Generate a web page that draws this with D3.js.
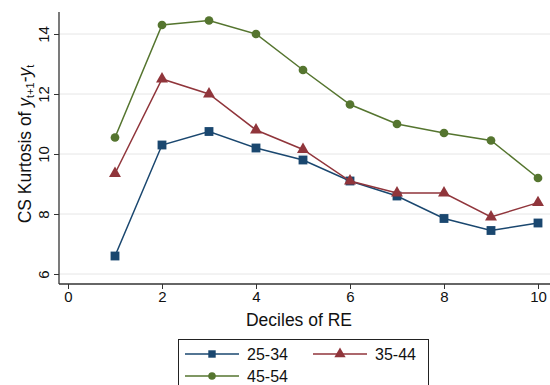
<!DOCTYPE html>
<html>
<head>
<meta charset="utf-8">
<script src="https://cdn.jsdelivr.net/npm/d3@7"></script>
<style>
  body { margin: 0; background: #fff; }
  svg { font-family: "Liberation Sans", Arial, sans-serif; }
</style>
</head>
<body>
<div id="chart"></div>
<script>
const deciles = [1, 2, 3, 4, 5, 6, 7, 8, 9, 10];
const age2534 = [6.6, 10.3, 10.75, 10.2, 9.8, 9.1, 8.6, 7.85, 7.45, 7.7];
const age3544 = [9.35, 12.5, 12.0, 10.8, 10.15, 9.1, 8.7, 8.7, 7.9, 8.38];
const age4554 = [10.55, 14.3, 14.45, 14.0, 12.8, 11.65, 11.0, 10.7, 10.45, 9.2];
const xTicks = [0, 2, 4, 6, 8, 10];
const yTicks = [6, 8, 10, 12, 14];

const series = [
  { name: '25-34', values: age2534, color: '#1a476f', shape: d3.symbolSquare },
  { name: '35-44', values: age3544, color: '#90353b', shape: d3.symbolTriangle },
  { name: '45-54', values: age4554, color: '#55752f', shape: d3.symbolCircle }
];

const width = 550;
const height = 385;

const svg = d3.select('#chart')
  .append('svg')
  .attr('width', width)
  .attr('height', height);

// plot area
const plotLeft = 59, plotRight = 550, plotTop = 12, plotBottom = 284;
const x = d3.scaleLinear().domain([0, 10]).range([68, 538]);
const y = d3.scaleLinear().domain([6, 14]).range([274, 34]);

// gridlines
svg.append('g')
  .selectAll('line')
  .data(yTicks)
  .enter()
  .append('line')
  .attr('x1', plotLeft)
  .attr('x2', plotRight)
  .attr('y1', d => y(d))
  .attr('y2', d => y(d))
  .attr('stroke', '#e6e6e6')
  .attr('stroke-width', 1);

// y axis
const yAxis = svg.append('g')
  .attr('transform', `translate(${plotLeft},0)`)
  .call(d3.axisLeft(y).tickValues(yTicks).tickSize(5).tickFormat(d3.format('d')));
yAxis.select('.domain').attr('d', `M0,${plotTop}V${plotBottom}`).attr('stroke', '#333').attr('stroke-width', 1.3);
yAxis.selectAll('.tick line').attr('stroke', '#333');
yAxis.selectAll('.tick text')
  .attr('x', null)
  .attr('dy', null)
  .attr('transform', 'translate(-10,0) rotate(-90)')
  .attr('text-anchor', 'middle')
  .attr('font-size', 15)
  .attr('fill', '#111');

// x axis
const xAxis = svg.append('g')
  .attr('transform', `translate(0,${plotBottom})`)
  .call(d3.axisBottom(x).tickValues(xTicks).tickSize(5));
xAxis.select('.domain').attr('d', `M${plotLeft},0H${plotRight}`).attr('stroke', '#333').attr('stroke-width', 1.3);
xAxis.selectAll('.tick line').attr('stroke', '#333');
xAxis.selectAll('.tick text')
  .attr('y', 7)
  .attr('font-size', 15)
  .attr('fill', '#111');

// axis titles
svg.append('text')
  .attr('x', 299)
  .attr('y', 326)
  .attr('text-anchor', 'middle')
  .attr('font-size', 17.5)
  .attr('fill', '#111')
  .text('Deciles of RE');

const yTitle = svg.append('text')
  .attr('transform', 'translate(31,144) rotate(-90)')
  .attr('text-anchor', 'middle')
  .attr('font-size', 17.5)
  .attr('fill', '#111');
yTitle.append('tspan').text('CS Kurtosis of ');
yTitle.append('tspan').attr('font-style', 'italic').text('y');
yTitle.append('tspan').attr('font-size', 11).attr('dy', 3).text('t+1');
yTitle.append('tspan').attr('dy', -3).text('-');
yTitle.append('tspan').attr('font-style', 'italic').text('y');
yTitle.append('tspan').attr('font-size', 11).attr('dy', 3).text('t');

// lines and markers
const line = d3.line()
  .x((d, i) => x(deciles[i]))
  .y(d => y(d));

series.forEach(s => {
  svg.append('path')
    .datum(s.values)
    .attr('d', line)
    .attr('fill', 'none')
    .attr('stroke', s.color)
    .attr('stroke-width', 1.5);

  svg.append('g')
    .selectAll('path')
    .data(s.values)
    .enter()
    .append('path')
    .attr('transform', (d, i) => `translate(${x(deciles[i])},${y(d)})`)
    .attr('d', d3.symbol().type(s.shape).size(s.shape === d3.symbolCircle ? 60 : s.shape === d3.symbolSquare ? 78 : 62))
    .attr('fill', s.color);
});

// legend
const legend = svg.append('g');
legend.append('rect')
  .attr('x', 178.5)
  .attr('y', 339.5)
  .attr('width', 250)
  .attr('height', 60)
  .attr('fill', '#fff')
  .attr('stroke', '#222')
  .attr('stroke-width', 1);

const legendPos = [[185, 354], [313, 354], [185, 376]];
series.forEach((s, i) => {
  const [lx, ly] = legendPos[i];
  const g = legend.append('g').attr('transform', `translate(${lx},${ly})`);
  g.append('line')
    .attr('x1', 0).attr('x2', 54)
    .attr('stroke', s.color)
    .attr('stroke-width', 1.3);
  g.append('path')
    .attr('transform', 'translate(27,0)')
    .attr('d', d3.symbol().type(s.shape).size(s.shape === d3.symbolCircle ? 45 : 55))
    .attr('fill', s.color);
  g.append('text')
    .attr('x', 62)
    .attr('y', 6)
    .attr('font-size', 16)
    .attr('fill', '#111')
    .text(s.name);
});
</script>
</body>
</html>
